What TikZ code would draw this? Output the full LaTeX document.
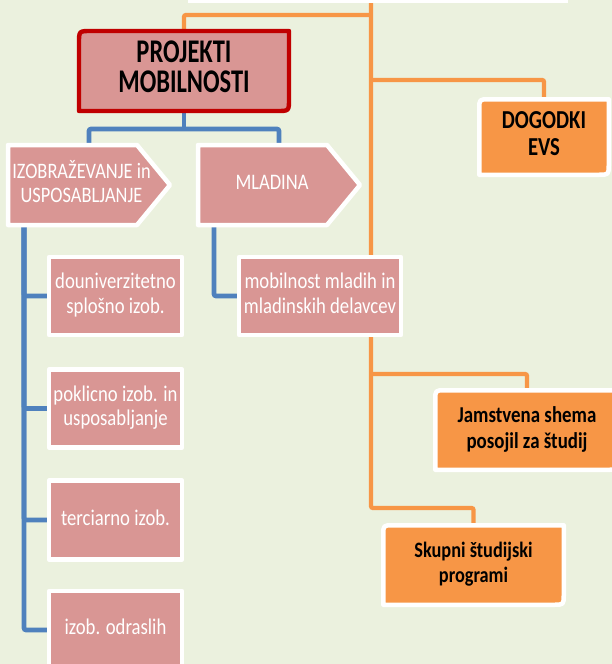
\documentclass[tikz,border=0pt]{standalone}
\usepackage{fontspec}
\setmainfont{Carlito}
\usepackage{graphicx}
\usetikzlibrary{backgrounds,calc}
\definecolor{bgc}{HTML}{EBF1DE}
\definecolor{pinkc}{HTML}{D99694}
\definecolor{redc}{HTML}{C00000}
\definecolor{orc}{HTML}{F79646}
\definecolor{bluc}{HTML}{4F81BD}
\newcommand{\vtxt}[2]{\scalebox{1}[#1]{\begin{tabular}{@{}c@{}}#2\end{tabular}}}
\begin{document}
\begin{tikzpicture}[x=1pt,y=-1pt,
  holder/.style={shape=rectangle, inner sep=0pt, outer sep=0pt},
  pinktext/.style={holder, text=white, font=\fontsize{18.7}{20.8}\selectfont},
  ortext/.style={holder, text=black, font=\bfseries\fontsize{18.9}{21.7}\selectfont},
  oline/.style={draw=orc, line width=4.3pt, rounded corners=2pt},
  bline/.style={draw=bluc, line width=4.6pt, rounded corners=2pt},
  pinkbox/.style={fill=pinkc, draw=white, line width=4.5pt, line join=round},
  orbox/.style={fill=orc, draw=white, line width=4.5pt, line join=round},
  projbox/.style={fill=pinkc, draw=redc, line width=4.4pt, line join=round},
]
\useasboundingbox (0,0) rectangle (612,664);

% top partial box
\node[holder, fill=white, minimum width=380, minimum height=23] (top) at (378,-8.5) {};
\coordinate (T) at ($(top.south west)+(183,0)$);

% main nodes
\node[holder, minimum width=210, minimum height=80, font=\bfseries\fontsize{24.5}{22.2}\selectfont] (proj) at (184,71) {\vtxt{1.35}{PROJEKTI\\MOBILNOSTI}};
\node[holder, minimum width=129.5, minimum height=75.5, font=\bfseries\fontsize{20.7}{21.6}\selectfont] (dog) at (544,137) {\vtxt{1.25}{DOGODKI\\EVS}};
\node[ortext, minimum width=183.5, minimum height=79.5] (jam) at (527,430) {\vtxt{1.2}{Jamstvena shema\\posojil za študij}};
\node[ortext, minimum width=180.5, minimum height=79.5, font=\bfseries\fontsize{18.3}{20.8}\selectfont] (skup) at (473.5,565) {\vtxt{1.2}{Skupni študijski\\programi}};

\node[pinktext, minimum width=162, minimum height=80, font=\fontsize{18.4}{20}\selectfont] (izob) at (89,185) {\vtxt{1.2}{IZOBRAŽEVANJE in\\USPOSABLJANJE}\hspace*{15pt}};
\node[pinktext, minimum width=162, minimum height=80, font=\fontsize{18.5}{20}\selectfont] (mlad) at (279,185) {\vtxt{1.2}{MLADINA}\hspace*{14pt}};

\node[pinktext, minimum width=133, minimum height=78] (b1) at (115.5,296) {\vtxt{1.2}{douniverzitetno\\splošno izob.}};
\node[pinktext, minimum width=133, minimum height=78] (b2) at (115.5,408.5) {\vtxt{1.2}{poklicno izob. in\\usposabljanje}};
\node[pinktext, minimum width=133, minimum height=79] (b3) at (115.5,520) {\vtxt{1.2}{terciarno izob.}};
\node[pinktext, minimum width=133, minimum height=78] (b4) at (115.5,630) {\raisebox{-3pt}{\vtxt{1.2}{izob. odraslih}}};
\node[pinktext, minimum width=162, minimum height=78] (mob) at (320,296) {\vtxt{1.2}{mobilnost mladih in\\mladinskih delavcev}};

\begin{scope}[on background layer]
  \clip (0,0) rectangle (612,664);
  \fill[bgc] (0,0) rectangle (612,664);
  % orange connectors
  \coordinate (oP) at (371,15);
  \coordinate (oD) at (371,80);
  \coordinate (oJ) at (371,374);
  \coordinate (oS) at (371,508);
  \draw[oline] (T) -- (oS) -| (skup.north);
  \draw[oline] (oP) -| (proj.north);
  \draw[oline] (oD) -| (dog.north);
  \draw[oline] (oJ) -| (jam.north);
  % blue connectors
  \coordinate (bP) at (184,129);
  \draw[bline] (proj.south) -- (bP);
  \draw[bline] (izob.north) |- (bP) -| (mlad.north);
  \coordinate (L) at ($(izob.south west)+(16,0)$);
  \draw[bline] (L) |- (b4.west);
  \draw[bline] (L) |- (b1.west);
  \draw[bline] (L) |- (b2.west);
  \draw[bline] (L) |- (b3.west);
  \coordinate (M) at ($(mlad.south west)+(16,0)$);
  \draw[bline] (M) |- (mob.west);
  % shapes
  \path[projbox] (proj.south west) -- ($(proj.north west)+(0,12)$) .. controls (proj.north west) .. ($(proj.north west)+(12,0)$) -- (proj.north east) -- ($(proj.south east)+(0,-12)$) .. controls (proj.south east) .. ($(proj.south east)+(-12,0)$) -- cycle;
  \path[orbox] (dog.south west) -- ($(dog.north west)+(0,10)$) .. controls (dog.north west) .. ($(dog.north west)+(10,0)$) -- (dog.north east) -- ($(dog.south east)+(0,-10)$) .. controls (dog.south east) .. ($(dog.south east)+(-10,0)$) -- cycle;
  \path[orbox] (jam.south west) -- ($(jam.north west)+(0,10)$) .. controls (jam.north west) .. ($(jam.north west)+(10,0)$) -- (jam.north east) -- ($(jam.south east)+(0,-10)$) .. controls (jam.south east) .. ($(jam.south east)+(-10,0)$) -- cycle;
  \path[orbox] (skup.south west) -- ($(skup.north west)+(0,10)$) .. controls (skup.north west) .. ($(skup.north west)+(10,0)$) -- (skup.north east) -- ($(skup.south east)+(0,-10)$) .. controls (skup.south east) .. ($(skup.south east)+(-10,0)$) -- cycle;
  \path[pinkbox] (izob.north west) -- ($(izob.north east)+(-33,0)$) -- (izob.east) -- ($(izob.south east)+(-33,0)$) -- (izob.south west) -- cycle;
  \path[pinkbox] (mlad.north west) -- ($(mlad.north east)+(-33,0)$) -- (mlad.east) -- ($(mlad.south east)+(-33,0)$) -- (mlad.south west) -- cycle;
  \path[pinkbox] (b1.north west) rectangle (b1.south east);
  \path[pinkbox] (b2.north west) rectangle (b2.south east);
  \path[pinkbox] (b3.north west) rectangle (b3.south east);
  \path[pinkbox] (b4.north west) rectangle (b4.south east);
  \path[pinkbox] (mob.north west) rectangle (mob.south east);
\end{scope}
\end{tikzpicture}
\end{document}
